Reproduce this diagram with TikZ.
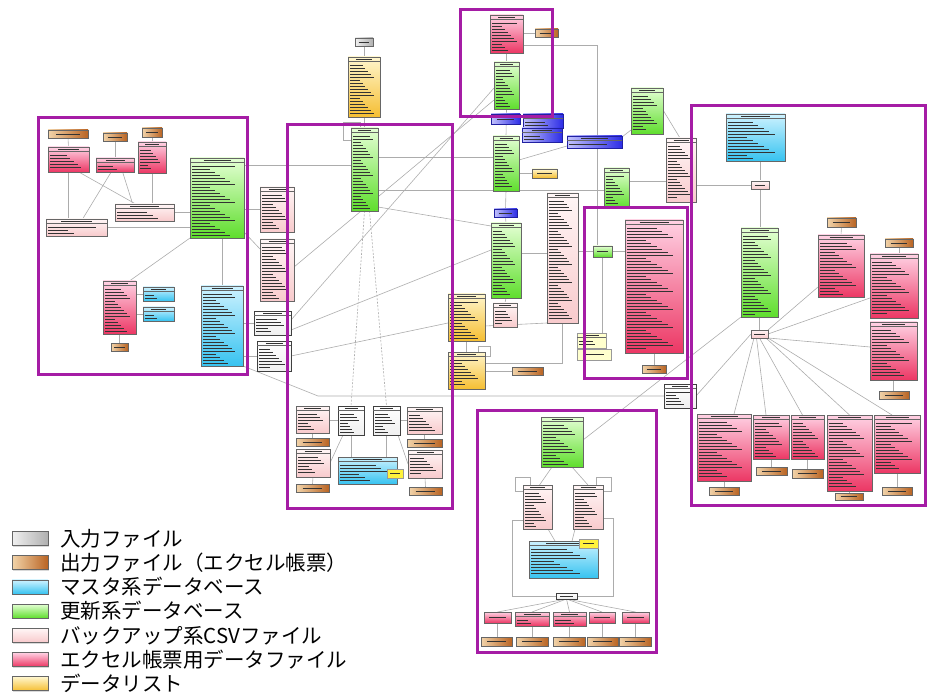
\documentclass[tikz,border=0pt]{standalone}
\usepackage{fontspec}
\newfontfamily\cjk{Noto Sans CJK JP}
\usetikzlibrary{calc,shadows}
\pgfdeclarelayer{bg}\pgfdeclarelayer{fg}\pgfsetlayers{bg,main,fg}
\definecolor{frmc}{RGB}{165,28,165}
\definecolor{orgA}{RGB}{242,212,170}\definecolor{orgB}{RGB}{185,100,35}
\definecolor{bluA}{RGB}{205,242,255}\definecolor{bluB}{RGB}{55,195,240}
\definecolor{grnA}{RGB}{228,255,212}\definecolor{grnB}{RGB}{95,222,45}
\definecolor{lpkA}{RGB}{255,246,246}\definecolor{lpkB}{RGB}{248,202,204}
\definecolor{pnkA}{RGB}{255,210,228}\definecolor{pnkB}{RGB}{236,55,100}
\definecolor{ylwA}{RGB}{255,246,205}\definecolor{ylwB}{RGB}{245,190,50}
\definecolor{bntA}{RGB}{195,195,252}\definecolor{bntB}{RGB}{45,45,230}
\definecolor{yntA}{RGB}{255,255,205}\definecolor{ynbA}{RGB}{255,242,60}
\tikzset{
 ebox/.style={rectangle,draw=black!60,line width=0.6pt,inner sep=0pt,outer sep=0pt,
   drop shadow={shadow xshift=1.2pt,shadow yshift=-1.2pt,opacity=0.3}},
 gry/.style={left color=gray!12,right color=gray!62},
 org/.style={left color=orgA,right color=orgB},
 blu/.style={top color=bluA,bottom color=bluB},
 grn/.style={top color=grnA,bottom color=grnB},
 lpk/.style={top color=lpkA,bottom color=lpkB},
 pnk/.style={top color=pnkA,bottom color=pnkB},
 ylw/.style={top color=ylwA,bottom color=ylwB},
 wht/.style={top color=white,bottom color=gray!12,draw=black!75,line width=0.8pt},
 bnt/.style={left color=bntA,right color=bntB,draw=bntB!70!black},
 ynt/.style={fill=yntA,draw=black!40},
 ynb/.style={fill=ynbA,draw=black!40},
 txt/.style={black!80,line width=0.4pt},
 hdr/.style={black!60,line width=0.4pt},
 con/.style={gray!65,line width=0.6pt},
 frm/.style={frmc,line width=3pt},
}
\newcommand\ent[6]{%
  \pgfmathsetmacro\ew{#5-#3}%
  \pgfmathsetmacro\eh{#6-#4}%
  \pgfmathsetmacro\ecx{(#3+#5)/2}%
  \pgfmathsetmacro\ecy{(#4+#6)/2}%
  \node[ebox,#2,minimum width=\ew pt,minimum height=\eh pt] (#1) at (\ecx,\ecy) {};
  \ifdim\eh pt<12pt
    \draw[txt] ({\ecx-0.3*\ew},\ecy) -- ({\ecx+0.3*\ew},\ecy);
  \else
    \draw[hdr] (#3,#4+4.5) -- (#5,#4+4.5);
    \draw[txt,line width=0.5pt] ({\ecx-0.25*\ew},#4+2.3) -- ({\ecx+0.25*\ew},#4+2.3);
    \pgfmathtruncatemacro\nr{floor((\eh-8)/3.0)}%
    \ifnum\nr>0
      \foreach \k in {1,...,\nr}{
        \pgfmathsetmacro\fr{0.35+0.1*mod(\k*7+#3,6)}
        \draw[txt] (#3+2,{#4+5+\k*3.0}) -- ({#3+2+\fr*(\ew-4)},{#4+5+\k*3.0});
      }
    \fi
  \fi
}
\newcommand\leg[4]{%
  \node[ebox,#1,minimum width=36pt,minimum height=14pt] (#4) at (30,#2) {};
  \node[anchor=west,inner sep=0pt,font=\cjk\fontsize{20.5}{22}\selectfont] (#4t) at (60,#2) {#3};
}
\begin{document}
\begin{tikzpicture}[x=1pt,y=-1pt]
\useasboundingbox (0,0) rectangle (927,695);
% ---------- left frame ----------
\ent{L1}{org}{48}{130}{88}{138}
\ent{L2}{org}{103}{133}{127}{141}
\ent{L3}{org}{142}{128}{162}{137}
\ent{L4}{pnk}{48}{147}{89}{172}
\ent{L5}{pnk}{96}{158}{134}{172}
\ent{L6}{pnk}{138}{142}{166}{173}
\ent{L7}{lpk}{115}{204}{174}{221}
\ent{L8}{lpk}{46}{219}{107}{236}
\ent{L9}{grn}{190}{158}{244}{238}
\ent{L10}{pnk}{103}{281}{136}{334}
\ent{L11}{blu}{143}{287}{174}{301}
\ent{L12}{blu}{143}{307}{174}{321}
\ent{L13}{org}{111}{343}{128}{351}
\ent{L14}{blu}{201}{286}{243}{366}
% ---------- middle ----------
\ent{M1}{lpk}{260}{187}{294}{232}
\ent{M2}{lpk}{260}{239}{294}{301}
\ent{M3}{wht}{254}{311}{291}{335}
\ent{M4}{wht}{257}{341}{291}{371}
\ent{T1}{gry}{355}{38}{373}{46}
\ent{T2}{ylw}{348}{57}{380}{117}
\ent{M5}{grn}{351}{128}{378}{211}
\ent{M6}{lpk}{296}{406}{329}{433}
\ent{M7}{wht}{338}{406}{364}{435}
\ent{M8}{wht}{373}{406}{400}{435}
\ent{M9}{lpk}{407}{407}{442}{434}
\ent{M10}{org}{296}{438}{329}{446}
\ent{M11}{org}{407}{439}{442}{447}
\ent{M12}{lpk}{296}{449}{330}{477}
\ent{M13}{blu}{338}{457}{397}{484}
\ent{M14}{ynb}{387}{469}{403}{478}
\ent{M15}{lpk}{408}{450}{442}{478}
\ent{M16}{org}{296}{484}{329}{492}
\ent{M17}{org}{409}{487}{442}{495}
% ---------- top centre ----------
\ent{C1}{pnk}{490}{15}{523}{53}
\ent{C2}{org}{535}{29}{558}{37}
\ent{C3}{grn}{494}{62}{519}{109}
\ent{C8}{grn}{493}{136}{519}{191}
\ent{C4}{bnt}{491}{114}{520}{124}
\ent{C5}{bnt}{523}{114}{563}{128}
\ent{C6}{bnt}{522}{128}{562}{142}
\ent{C7}{bnt}{567}{136}{622}{148}
\ent{C9}{ylw}{532}{169}{557}{178}
\ent{C10}{grn}{631}{88}{663}{134}
\ent{C11}{lpk}{666}{138}{696}{202}
\ent{C12}{grn}{604}{168}{629}{208}
\ent{C13}{lpk}{547}{193}{578}{323}
\ent{C14}{bnt}{494}{209}{517}{217}
\ent{C15}{grn}{491}{223}{521}{298}
\ent{C16}{lpk}{493}{303}{517}{327}
\ent{C17}{ylw}{448}{294}{485}{341}
\ent{C18}{ylw}{448}{352}{485}{389}
\ent{C19}{org}{512}{367}{543}{375}
\ent{C20}{grn}{593}{246}{612}{257}
\ent{C21}{pnk}{625}{220}{683}{353}
\ent{C22}{org}{642}{365}{666}{373}
\ent{C23}{ynt}{577}{333}{606}{348}
\ent{C24}{ynt}{577}{349}{611}{360}
\ent{C25}{wht}{664}{384}{696}{408}
% ---------- right frame ----------
\ent{R1}{blu}{726}{114}{785}{161}
\ent{R2}{lpk}{751}{181}{769}{189}
\ent{R3}{grn}{741}{228}{778}{317}
\ent{R4}{lpk}{751}{330}{768}{338}
\ent{R5o}{org}{827}{218}{856}{227}
\ent{R5}{pnk}{818}{235}{864}{297}
\ent{R6o}{org}{885}{239}{913}{247}
\ent{R6}{pnk}{870}{254}{918}{318}
\ent{R7}{pnk}{870}{322}{917}{380}
\ent{R7o}{org}{879}{391}{909}{399}
\ent{R8}{pnk}{697}{414}{751}{481}
\ent{R8o}{org}{709}{487}{739}{495}
\ent{R9}{pnk}{753}{415}{789}{459}
\ent{R9o}{org}{756}{467}{787}{475}
\ent{R10}{pnk}{791}{415}{824}{459}
\ent{R10o}{org}{792}{469}{823}{478}
\ent{R11}{pnk}{827}{415}{872}{491}
\ent{R11o}{org}{835}{493}{863}{500}
\ent{R12}{pnk}{874}{415}{920}{473}
\ent{R12o}{org}{882}{487}{912}{495}
% ---------- bottom frame ----------
\ent{B1}{grn}{541}{417}{583}{467}
\ent{B2}{lpk}{523}{485}{552}{529}
\ent{B3}{lpk}{573}{485}{603}{529}
\ent{B4}{blu}{529}{541}{598}{578}
\ent{B5}{ynb}{579}{539}{598}{548}
\ent{B6}{wht}{556}{593}{577}{599}
\ent{B7}{pnk}{484}{612}{511}{623}
\ent{B8}{pnk}{515}{612}{549}{626}
\ent{B9}{pnk}{553}{612}{586}{626}
\ent{B10}{pnk}{589}{612}{615}{623}
\ent{B11}{pnk}{622}{612}{649}{623}
\ent{B12}{org}{481}{637}{512}{646}
\ent{B13}{org}{516}{637}{548}{646}
\ent{B14}{org}{553}{637}{585}{646}
\ent{B15}{org}{587}{637}{618}{646}
\ent{B16}{org}{619}{637}{651}{646}
% ---------- legend ----------
\leg{gry}{538.5}{入力ファイル}{G1}
\leg{org}{562.7}{出力ファイル（エクセル帳票）}{G2}
\leg{blu}{586.9}{マスタ系データベース}{G3}
\leg{grn}{611.1}{更新系データベース}{G4}
\leg{lpk}{635.3}{バックアップ系CSVファイル}{G5}
\leg{pnk}{659.5}{エクセル帳票用データファイル}{G6}
\leg{ylw}{683.7}{データリスト}{G7}
% ---------- connectors ----------
\begin{pgfonlayer}{bg}
\draw[con] (L1.south) -- (L4.north);
\draw[con] (L2.south) -- (L5.north);
\draw[con] (L3.south) -- (L6.north);
\draw[con] (L4.south) -- (L4.south |- L8.north);
\draw[con] ($(L4.south)!0.5!(L4.south east)$) -- ($(L7.north west)!0.35!(L7.north east)$);
\draw[con] ($(L5.south west)!0.4!(L5.south east)$) -- ($(L8.north west)!0.6!(L8.north east)$);
\draw[con] ($(L5.south west)!0.7!(L5.south east)$) -- ($(L7.north west)!0.3!(L7.north east)$);
\draw[con] (L6.south) -- (L6.south |- L7.north);
\draw[con] (L9.west |- L7.east) -- (L7.east);
\draw[con] (L9.west |- L8.east) -- (L8.east);
\draw[con] (L9.south west) -- ($(L10.north)!0.6!(L10.north east)$);
\draw[con] (L9.south -| L14.north) -- (L14.north);
\draw[con] (L10.east |- L11.west) -- (L11.west);
\draw[con] (L10.east |- L12.west) -- (L12.west);
\draw[con] (L10.south) -- (L13.north);
\draw[con] ($(L9.north east)+(0,7)$) -- ($(M5.north west)+(0,37)$);
\draw[con] (L9.east |- M1.west) -- (M1.west);
\draw[con] ($(L9.south east)+(0,-6)$) -- ($(M2.north west)+(0,10)$);
\draw[con] (L14.east |- M3.west) -- (M3.west);
\draw[con] (L14.east |- M4.west) -- (M4.west);
\draw[con] (L14.south east) -- ($(M6.north west)+(22,-10)$) -- (C25.west);
% middle
\draw[con] (T1.south) -- (T2.north);
\draw[con] (T2.south) -- (T2.south |- M5.north);
\draw[con] ($(M5.north west)+(0,12)$) -- ($(M5.north west)+(-8,12)$) -- ($(M5.north west)+(-8,-6)$) -- ($(M5.north west)+(9,-6)$) -- ($(M5.north west)+(9,0)$);
\draw[con] ($(M5.north east)+(0,29)$) -- ($(C8.north west)+(0,21)$);
\draw[con] ($(M5.north east)+(0,62)$) -- ($(C12.north west)+(0,22)$);
\draw[con] ($(M5.south east)+(0,-4)$) -- ($(C15.north west)+(0,3)$);
\draw[con,dashed,dash pattern=on 2pt off 1.5pt] (M5.south) -- (M7.north);
\draw[con,dashed,dash pattern=on 2pt off 1.5pt] ($(M5.south)+(5,0)$) -- (M8.north);
\draw[con] ($(M3.north east)+(0,9)$) -- ($(C3.north west)+(0,26)$);
\draw[con] ($(M2.north east)+(0,28)$) -- ($(C3.north west)+(0,38)$);
\draw[con] ($(M3.south east)+(0,-5)$) -- ($(C15.north west)+(0,27)$);
\draw[con] (M4.east) -- ($(C17.north west)+(0,29)$);
\draw[con] (M6.east |- M7.west) -- (M7.west);
\draw[con] (M8.east) -- (M8.east -| M9.west);
\draw[con] (M6.south) -- (M10.north);
\draw[con] (M9.south) -- (M11.north);
\draw[con] (M12.south) -- (M16.north);
\draw[con] (M15.south) -- (M17.north);
\draw[con] ($(M7.south west)+(5,0)$) -- (M12.east);
\draw[con] ($(M8.south east)+(-2,0)$) -- (M15.west);
\draw[con] (M7.south) -- (M7.south |- M13.north);
\draw[con] (M8.south) -- (M8.south |- M13.north);
% top centre
\draw[con] (C1.east |- C2.west) -- (C2.west);
\draw[con] (C1.south) -- (C3.north);
\draw[con] ($(C1.south east)+(0,-8)$) -| ($(C20.north)+(-5,0)$);
\draw[con] (C3.south) -- (C8.north);
\draw[con] (C8.east |- C9.west) -- (C9.west);
\draw[con] ($(C8.north east)+(0,24)$) -- ($(C7.south west)+(0,-2)$);
\draw[con] ($(C7.north east)+(0,1)$) -- ($(C10.north west)+(0,42)$);
\draw[con] (C8.south) -- (C14.north);
\draw[con] (C14.south) -- (C15.north);
\draw[con] ($(C10.north east)+(0,22)$) -- ($(C11.north west)+(14,0)$);
\draw[con] ($(C12.north east)+(0,13)$) -- ($(C11.north west)+(0,43)$);
\draw[con] ($(C15.north east)+(0,30)$) -- ($(C13.north west)+(0,60)$);
\draw[con] (C13.east |- C20.west) -- (C20.west);
\draw[con] (C20.east) -- (C20.east -| C21.west);
\draw[con] (C20.south) -- (C20.south |- C23.north);
\draw[con] (C15.south) -- (C16.north);
\draw[con] (C17.south) -- (C18.north);
\draw[con] ($(C18.north east)+(-7,0)$) -- ($(C18.north east)+(-7,-6)$) -- ($(C18.north east)+(5,-6)$) -- ($(C18.north east)+(5,4)$) -- ($(C18.north east)+(0,4)$);
\draw[con] (C18.east |- C19.west) -- (C19.west);
\draw[con] ($(C17.north east)+(0,32)$) -- (C13.south west);
\draw[con] (C13.south) |- ($(C18.north east)+(0,11)$);
\draw[con] (C21.south) -- (C22.north);
% right
\draw[con] (R2.north |- R1.south) -- (R2.north);
\draw[con] (C11.east |- R2.west) -- (R2.west);
\draw[con] (R2.south) -- (R2.south |- R3.north);
\draw[con] (R3.south -| R4.north) -- (R4.north);
\draw[con] (R4.north east) -- ($(R5.south west)+(0,-10)$);
\draw[con] (R4.east) -- ($(R6.south west)+(0,-20)$);
\draw[con] (R4.south east) -- ($(R7.north west)+(0,25)$);
\draw[con] ($(R4.south west)+(3,0)$) -- ($(R8.north)+(10,0)$);
\draw[con] ($(R4.south)+(-3,0)$) -- ($(R9.north)+(-5,0)$);
\draw[con] (R4.south) -- ($(R10.north)+(-5,0)$);
\draw[con] ($(R4.south east)+(-2,0)$) -- (R11.north);
\draw[con] (R4.south east) -- ($(R12.north)+(-5,0)$);
\draw[con] (R3.south west) -- ($(B1.north east)+(0,23)$);
\draw[con] (R4.west) -- ($(C25.north east)+(0,12)$);
\draw[con] (R5o.south) -- (R5.north);
\draw[con] (R6o.south) -- (R6o.south |- R6.north);
\draw[con] (R7.south) -- (R7.south |- R7o.north);
\draw[con] (R8.south) -- (R8.south |- R8o.north);
\draw[con] (R9.south) -- (R9.south |- R9o.north);
\draw[con] (R10.south) -- (R10.south |- R10o.north);
\draw[con] (R11.south) -- (R11.south |- R11o.north);
\draw[con] (R12.south) -- (R12.south |- R12o.north);
% bottom
\draw[con] ($(B1.south west)+(11,0)$) -- ($(B2.north)+(2,0)$);
\draw[con] ($(B1.south east)+(-11,0)$) -- (B3.north);
\draw[con] ($(B2.south east)+(-4,0)$) -- ($(B4.north west)+(26,0)$);
\draw[con] ($(B3.south west)+(2,0)$) -- ($(B4.north west)+(43,0)$);
\draw[con] ($(B2.south west)+(0,-9)$) -- ($(B2.south west)+(-11,-9)$) |- (B6.west);
\draw[con] ($(B3.south east)+(0,-11)$) -- ($(B3.south east)+(10,-11)$) |- (B6.east);
\draw[con] ($(B2.north west)+(0,6)$) -- ($(B2.north west)+(-8,6)$) -- ($(B2.north west)+(-8,-8)$) -- ($(B2.north west)+(7,-8)$) -- ($(B2.north west)+(7,0)$);
\draw[con] ($(B3.north east)+(0,6)$) -- ($(B3.north east)+(8,6)$) -- ($(B3.north east)+(8,-8)$) -- ($(B3.north east)+(-7,-8)$) -- ($(B3.north east)+(-7,0)$);
\foreach \b in {B7,B8,B9,B10,B11}{\draw[con] (B6.south) -- (\b.north);}
\draw[con] (B7.south) -- (B7.south |- B12.north);
\draw[con] (B8.south) -- (B8.south |- B13.north);
\draw[con] (B9.south) -- (B9.south |- B14.north);
\draw[con] (B10.south) -- (B10.south |- B15.north);
\draw[con] (B11.south) -- (B11.south |- B16.north);
\end{pgfonlayer}
% ---------- highlight frames ----------
\begin{pgfonlayer}{fg}
\draw[frm] (38,118) rectangle (247,374);
\draw[frm] (287,125) rectangle (452,508);
\draw[frm] (460,10) rectangle (552,117);
\draw[frm] (691,106) rectangle (925,505);
\draw[frm] (584,208) rectangle (687,378);
\draw[frm] (477,410) rectangle (656,652);
\end{pgfonlayer}
\end{tikzpicture}
\end{document}
